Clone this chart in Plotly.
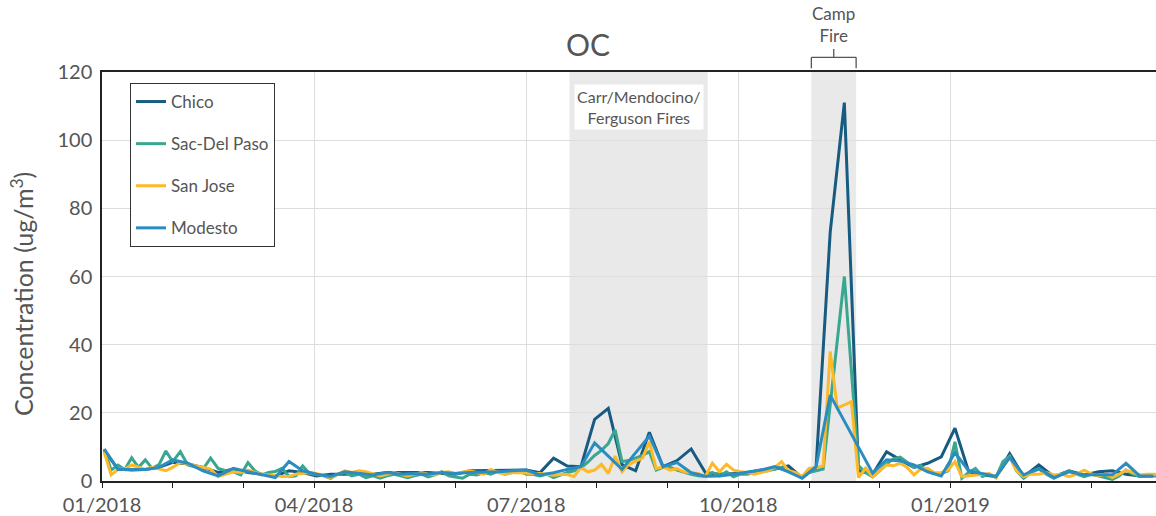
import calendar
import pandas as pd
import plotly.graph_objects as go

# ---- data (3-day sampling schedule; Chico & Modesto on every 2nd sample day) ----
schedule_start = "2018-01-02"
n_samples = 152

sac_del_paso = [9.4, 3.2, 4.7, 3.4, 6.8, 4.0, 6.2, 3.7, 4.8, 8.8,
                5.7, 8.6, 4.7, 4.0, 3.5, 6.7, 3.7, 3.0, 2.7, 1.8,
                5.4, 3.0, 1.8, 2.5, 2.8, 3.7, 1.3, 1.5, 4.4, 2.2,
                1.8, 1.5, 0.8, 2.0, 2.5, 1.5, 2.0, 1.0, 1.5, 0.8,
                1.5, 2.0, 1.5, 1.0, 1.5, 2.0, 1.2, 1.8, 2.7, 1.5,
                1.2, 0.8, 2.0, 1.8, 2.5, 2.0, 2.8, 2.0, 2.5, 3.0,
                2.0, 2.0, 1.5, 2.0, 1.0, 1.8, 2.5, 3.0, 3.8, 5.5,
                7.5, 9.0, 11.0, 15.0, 5.7, 6.0, 6.8, 7.5, 8.6, 3.2,
                4.0, 4.0, 3.2, 2.5, 2.0, 1.5, 1.3, 2.5, 1.5, 2.7,
                1.2, 2.0, 2.0, 2.5, 2.7, 3.0, 3.5, 4.0, 3.0, 2.0,
                1.3, 2.5, 3.0, 3.5, None, None, 60.0, None, 4.5, 2.5,
                1.2, 3.0, 5.0, 6.5, 7.0, 5.5, 4.0, 4.5, 3.0, 2.2,
                2.2, 3.0, 11.5, 0.8, 2.5, 3.7, 1.3, 2.0, 1.0, 5.7,
                7.3, 3.0, 0.8, 2.5, 3.5, 2.0, 0.8, 2.0, 3.0, 2.0,
                1.3, 2.0, 1.5, 1.0, 0.5, 1.5, 3.2, 2.0, 1.3, 1.5,
                1.5, 1.5]

san_jose = [8.5, 1.8, 3.4, 3.5, 4.7, 4.0, 3.4, 4.0, 3.5, 3.0,
            4.0, 5.4, 5.0, 4.5, 4.0, 3.5, 1.3, 2.0, 2.7, 2.5,
            3.2, 2.5, 2.0, 1.8, 1.5, 1.3, 1.3, 2.0, 2.2, 2.5,
            2.2, 1.5, 1.0, 2.0, 3.0, 2.5, 3.0, 2.7, 2.0, 1.5,
            2.0, 2.5, 2.0, 1.5, 2.0, 2.5, 2.0, 1.8, 2.5, 2.7,
            2.2, 2.5, 3.0, 2.5, 2.0, 3.4, 2.5, 2.0, 2.5, 2.4,
            2.2, 2.2, 2.2, 2.0, 1.7, 1.9, 1.9, 1.3, 4.0, 2.7,
            3.2, 4.9, 2.2, 7.3, 2.7, 4.9, 5.7, 6.7, 11.5, 3.6,
            4.2, 3.2, 3.6, 2.7, 2.4, 2.2, 1.3, 5.2, 2.7, 4.9,
            3.2, 2.7, 2.5, 2.0, 2.5, 3.0, 4.0, 5.7, 3.0, 2.5,
            1.3, 3.7, 4.0, 4.4, 38.0, 21.4, 22.3, 23.3, 1.0, 3.8,
            1.2, 3.0, 4.7, 4.5, 5.2, 4.0, 1.8, 3.5, 3.7, 2.4,
            2.5, 3.2, 5.7, 1.3, 1.5, 1.8, 2.0, 2.2, 1.1, 4.0,
            6.9, 3.0, 1.3, 2.0, 2.0, 2.5, 1.8, 2.0, 1.3, 2.0,
            3.2, 2.0, 1.5, 2.0, 1.0, 2.0, 3.2, 2.5, 1.8, 2.0,
            2.0, 2.0]

chico = [9.0, 3.5, 3.2, 3.4, 4.0, 5.5, 5.0, 4.0, 2.5, 3.5,
         2.5, 2.0, 1.5, 3.0, 2.5, 1.5, 2.0, 2.0, 2.2, 2.0,
         2.5, 2.5, 2.5, 2.5, 2.2, 2.0, 3.0, 3.0, 3.2, 3.0,
         3.2, 2.4, 6.7, 4.4, 4.2, 18.1, 21.3, 4.8, 3.0, 14.3,
         4.2, 6.0, 9.4, 2.5, 2.0, 2.2, 2.5, 3.2, 3.5, 4.4,
         1.0, 4.0, 73.0, 111.0, 3.0, 2.0, 8.6, 6.2, 4.0, 5.2,
         7.1, 15.5, 2.7, 1.8, 1.3, 8.0, 1.3, 4.7, 1.3, 3.0,
         1.8, 2.7, 3.0, 2.0, 1.5, 1.5]

modesto = [9.4, 3.4, 3.4, 3.4, 4.0, 6.2, 5.2, 3.0, 1.5, 3.7,
           2.7, 1.8, 1.0, 5.7, 3.0, 2.0, 1.3, 2.7, 2.2, 1.8,
           2.5, 2.0, 2.2, 2.0, 2.5, 2.2, 2.5, 2.5, 2.7, 3.0,
           3.2, 1.8, 2.4, 3.4, 4.2, 11.2, None, 3.4, None, 13.2,
           4.2, 5.4, 2.4, 1.4, 1.5, 2.0, 2.7, 3.2, 4.2, 2.7,
           0.8, 4.2, 25.2, None, None, 2.3, 6.2, 5.9, 4.7, 2.7,
           1.5, 8.3, 3.0, 2.2, 1.3, 6.9, 1.8, 3.7, 1.0, 2.7,
           1.8, 1.8, 1.8, 5.2, 1.5, 1.5]

fire_periods = [("2018-07-20", "2018-09-18"), ("2018-11-02", "2018-11-21")]
quarter_labels = ["01/2018", "04/2018", "07/2018", "10/2018", "01/2019"]

# ---- helpers ----
def month_pos(d):
    d = pd.Timestamp(d)
    ndays = calendar.monthrange(d.year, d.month)[1]
    return (d.year - 2018) * 12 + (d.month - 1) + (d.day - 1) / ndays

dates3 = pd.date_range(schedule_start, periods=n_samples, freq="3D")
dates6 = dates3[::2]
x3 = [month_pos(d) for d in dates3]
x6 = [month_pos(d) for d in dates6]

GRAY = "#555555"
FONT = "Lato"

series = [
    ("Chico", x6, chico, "#175b80"),
    ("Sac-Del Paso", x3, sac_del_paso, "#3aa68f"),
    ("San Jose", x3, san_jose, "#fdb927"),
    ("Modesto", x6, modesto, "#2b8cc2"),
]

fig = go.Figure()
for i, (name, xs, ys, col) in enumerate(series):
    fig.add_trace(go.Scatter(x=xs, y=ys, mode="lines", name=name,
                             line=dict(color=col, width=3),
                             connectgaps=True, legendgroup=str(i)))

# fire shading
for a, b in fire_periods:
    fig.add_shape(type="rect", xref="x", yref="paper", x0=month_pos(a), x1=month_pos(b),
                  y0=0, y1=1, fillcolor="#e9e9e9", line=dict(width=0), layer="below")

# camp fire bracket
ca, cb = month_pos(fire_periods[1][0]), month_pos(fire_periods[1][1])
cm = (ca + cb) / 2
bracket = dict(color=GRAY, width=1.3)
fig.add_shape(type="line", xref="x", yref="paper", x0=ca, x1=cb, y0=1.036, y1=1.036, line=bracket)
fig.add_shape(type="line", xref="x", yref="paper", x0=ca, x1=ca, y0=1.036, y1=1.009, line=bracket)
fig.add_shape(type="line", xref="x", yref="paper", x0=cb, x1=cb, y0=1.036, y1=1.009, line=bracket)
fig.add_shape(type="line", xref="x", yref="paper", x0=cm, x1=cm, y0=1.036, y1=1.056, line=bracket)

fig.add_annotation(x=cm, xref="x", y=1.116, yref="paper", text="Camp<br>Fire",
                   xanchor="center", yanchor="middle", showarrow=False,
                   font=dict(family=FONT, size=17, color=GRAY))

ma, mb = month_pos(fire_periods[0][0]), month_pos(fire_periods[0][1])
fig.add_annotation(x=(ma + mb) / 2, xref="x", y=0.914, yref="paper",
                   text="Carr/Mendocino/<br>Ferguson Fires", showarrow=False,
                   xanchor="center", yanchor="middle",
                   bgcolor="white", borderpad=2,
                   font=dict(family=FONT, size=16, color=GRAY))

fig.add_annotation(x=-0.0759, xref="paper", y=0.457, yref="paper",
                   text="Concentration (ug/m<sup>3</sup>)", textangle=-90, showarrow=False,
                   xanchor="center", yanchor="middle",
                   font=dict(family=FONT, size=25, color=GRAY))

fig.update_layout(
    width=1156, height=516,
    margin=dict(l=102, r=0, t=72, b=35),
    paper_bgcolor="white", plot_bgcolor="white",
    font=dict(family=FONT, color=GRAY),
    title=dict(text="OC", x=588 / 1156, xanchor="center", y=1 - 45 / 516, yanchor="middle",
               font=dict(family=FONT, size=30, color=GRAY)),
    showlegend=True,
    legend=dict(x=(130 - 102) / 1054, y=(481 - 83) / 409, xanchor="left", yanchor="top",
                bordercolor="#333333", borderwidth=1, bgcolor="white",
                font=dict(family=FONT, size=17, color=GRAY),
                traceorder="grouped", tracegroupgap=17, itemwidth=30),
)

fig.update_xaxes(range=[0, (1156 - 102) / 70.7],
                 tickmode="array", tickvals=[0, 3, 6, 9, 12], ticktext=quarter_labels,
                 ticks="outside", ticklen=5, tickcolor="#222222", tickwidth=1.3,
                 tickfont=dict(family=FONT, size=20, color=GRAY),
                 showgrid=True, gridcolor="#dddddd", gridwidth=1,
                 showline=True, linecolor="#222222", linewidth=1.5, mirror=True,
                 minor=dict(tickmode="linear", tick0=0, dtick=1, ticks="outside",
                            ticklen=5, tickcolor="#222222", tickwidth=1.3, showgrid=False),
                 zeroline=False)
fig.update_yaxes(range=[0, 120], dtick=20,
                 tickfont=dict(family=FONT, size=20, color=GRAY),
                 showgrid=True, gridcolor="#dddddd", gridwidth=1,
                 showline=True, linecolor="#222222", linewidth=1.5,
                 ticks="", ticklabelstandoff=4, zeroline=False)

fig.write_html("out.html", config={"displayModeBar": False},
               post_script="document.body.style.margin='0px';")
